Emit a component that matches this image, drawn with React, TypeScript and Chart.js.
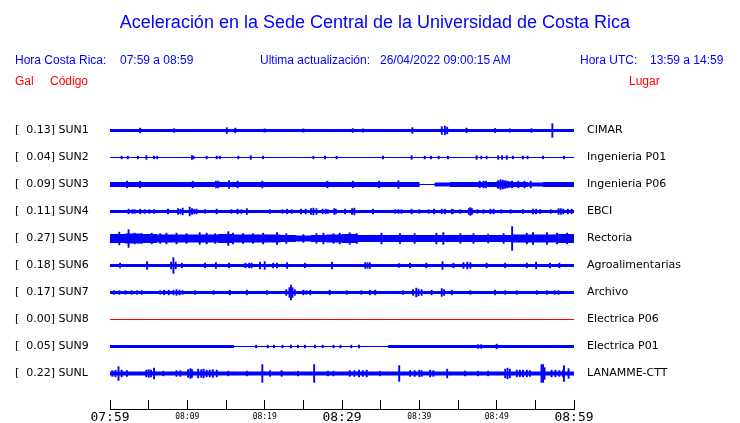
import React, { useEffect, useRef } from 'react';
import { Chart, registerables } from 'chart.js';

Chart.register(...registerables);

// ---------- data ----------
const stationCodes = ['SUN1', 'SUN2', 'SUN3', 'SUN4', 'SUN5', 'SUN6', 'SUN7', 'SUN8', 'SUN9', 'SUNL'];
const peakValues = [0.13, 0.04, 0.09, 0.11, 0.27, 0.18, 0.17, 0.0, 0.05, 0.22];
const stationNames = [
  'CIMAR', 'Ingenieria P01', 'Ingenieria P06', 'EBCI', 'Rectoria',
  'Agroalimentarias', 'Archivo', 'Electrica P06', 'Electrica P01', 'LANAMME-CTT',
];
const timeTickLabels = ['07:59', '08:09', '08:19', '08:29', '08:39', '08:49', '08:59'];
const bigTickMinutes = [0, 30, 60];

// envelope half-amplitude per 2-minute bin (30 bins = 60 minutes)
const sun1Env = [1.5, 1.5, 1.5, 1.5, 1.5, 1.5, 1.5, 1.5, 1.5, 1.5, 1.5, 1.5, 1.5, 1.5, 1.5, 1.5, 1.5, 1.5, 1.5, 1.5, 1.5, 1.5, 1.5, 1.5, 1.5, 1.5, 1.5, 1.5, 1.5, 1.5];
const sun2Env = [0.5, 0.5, 0.5, 0.5, 0.5, 0.5, 0.5, 0.5, 0.5, 0.5, 0.5, 0.5, 0.5, 0.5, 0.5, 0.5, 0.5, 0.5, 0.5, 0.5, 0.5, 0.5, 0.5, 0.5, 0.5, 0.5, 0.5, 0.5, 0.5, 0.5];
const sun3Env = [2.5, 2.5, 2.5, 2.5, 2.5, 2.5, 2.5, 2.5, 2.5, 2.5, 2.5, 2.5, 2.5, 2.5, 2.5, 2.5, 2.5, 2.5, 2.5, 2.5, 0.5, 2, 2.5, 2.5, 2.5, 3, 2.5, 2, 2.5, 2.5];
const sun4Env = [1.5, 1.5, 1.5, 1.5, 1.5, 1.5, 1.5, 1.5, 1.5, 1.5, 1.5, 1.5, 1.5, 1.5, 1.5, 1.5, 1.5, 1.5, 1.5, 1.5, 1.5, 1.5, 1.5, 1.5, 1.5, 1.5, 1.5, 1.5, 1.5, 1.5];
const sun5Env = [4.5, 5, 4.5, 4, 4, 4, 4, 4.5, 4, 4, 4, 3.5, 3, 3.5, 4, 4.5, 3.5, 3.5, 3.5, 3.5, 3.5, 3.5, 3.5, 3.5, 3.5, 3.5, 4, 4, 4, 4.5];
const sun6Env = [1.5, 1.5, 1.5, 1.5, 1.5, 1.5, 1.5, 1.5, 1.5, 1.5, 1.5, 1.5, 1.5, 1.5, 1.5, 1.5, 1.5, 1.5, 1.5, 1.5, 1.5, 1.5, 1.5, 1.5, 1.5, 1.5, 1.5, 1.5, 1.5, 1.5];
const sun7Env = [1.5, 1.5, 1.5, 1.5, 1.5, 1.5, 1.5, 1.5, 1.5, 1.5, 1.5, 1.5, 1.5, 1.5, 1.5, 1.5, 1.5, 1.5, 1.5, 1.5, 1.5, 1.5, 1.5, 1.5, 1.5, 1.5, 1.5, 1.5, 1.5, 1.5];
const sun8Env = [0.5, 0.5, 0.5, 0.5, 0.5, 0.5, 0.5, 0.5, 0.5, 0.5, 0.5, 0.5, 0.5, 0.5, 0.5, 0.5, 0.5, 0.5, 0.5, 0.5, 0.5, 0.5, 0.5, 0.5, 0.5, 0.5, 0.5, 0.5, 0.5, 0.5];
const sun9Env = [1.5, 1.5, 1.5, 1.5, 1.5, 1.5, 1.5, 1.5, 0.5, 0.5, 0.5, 0.5, 0.5, 0.5, 0.5, 0.5, 0.5, 0.5, 1.5, 1.5, 1.5, 1.5, 1.5, 1.5, 1.5, 1.5, 1.5, 1.5, 1.5, 1.5];
const sunLEnv = [2, 2, 2, 2, 2, 2, 2, 2, 2, 2, 2, 2, 2, 2, 2, 2, 2, 2, 2, 2, 2, 2, 2, 2, 2, 2, 2, 2, 2, 2];

// transient peaks: [minute, half-amplitude]
const sun1Spikes = [[3.9, 2.5], [8.3, 2], [15.1, 3], [16.2, 2.5], [20, 1.8], [25, 1.8], [31.4, 2], [32.7, 1.8], [39.1, 3], [42.9, 4], [43.3, 4.5], [43.6, 3.5], [46.1, 2.5], [49.8, 2.2], [51.7, 1.8], [54.5, 2], [57.2, 7]];
const sun2Spikes = [[1.5, 1.5], [2.3, 1.5], [3.6, 1.5], [4.7, 2], [5.7, 1.5], [6.1, 1.5], [10.6, 2], [10.8, 1.5], [12.5, 1.5], [13.8, 1.5], [14.2, 1.5], [16.6, 1.5], [18.2, 2], [19.8, 1.5], [26.3, 1.5], [27.8, 1.5], [29.3, 1.5], [35.3, 1.5], [39, 2], [40.7, 1.5], [41.5, 1.5], [42.5, 1.5], [43.7, 1.5], [47.4, 2], [48, 1.5], [48.7, 1.5], [50.2, 2], [50.7, 2], [51.3, 2], [52.1, 1.5], [53.4, 1.5], [54, 1.5], [56, 1.5], [58.7, 1.5]];
const sun3Spikes = [[2.2, 3.5], [3.9, 3.5], [10.7, 3.5], [13.7, 3.5], [14, 3.5], [15.4, 4], [16.5, 3.5], [19.7, 3.5], [28.1, 3.5], [31.4, 3.5], [34.8, 3.5], [37.3, 4], [47.8, 3.5], [48.3, 3.5], [48.6, 3.5], [50.2, 4], [50.5, 5], [50.8, 4.5], [51.1, 4], [51.4, 3.5], [52, 3.5], [52.8, 3.5], [53.6, 3.5], [54.4, 3.5]];
const sun4Spikes = [[2.4, 2.5], [2.9, 2], [3.2, 2], [3.9, 2.5], [4.5, 2], [5.1, 2], [5.7, 2], [7.5, 2.5], [8.8, 3], [9.1, 2.5], [9.4, 3.5], [10.3, 4.5], [10.6, 3], [10.9, 2.5], [11.2, 2.5], [12.3, 2], [13.8, 2.5], [15.7, 2], [16.5, 2.5], [17, 2], [17.7, 3], [20.7, 2], [22.3, 2], [22.9, 2.5], [23.5, 2], [24.7, 2.5], [25.3, 2.5], [26, 3], [26.3, 3.5], [26.7, 3], [27.5, 2.5], [27.9, 2.5], [28.2, 2], [29, 3], [29.2, 2.5], [30.4, 2.5], [31.3, 3], [31.6, 3.5], [34, 2.5], [36.9, 2], [37.3, 2], [37.7, 2], [39, 2.5], [40, 2], [41.2, 2], [41.9, 2.5], [42.9, 2.5], [43.3, 2.5], [44.2, 2.5], [44.4, 2], [45.3, 2], [46.4, 3], [46.6, 4], [46.8, 3], [47.5, 2], [48.3, 2], [49.2, 2.5], [49.6, 2.5], [50.6, 2], [51.8, 2], [53.4, 2], [54.7, 2.5], [55.1, 2.5], [55.6, 2], [57, 2], [58, 3], [58.3, 3], [58.6, 2.5], [59.2, 2.5], [59.7, 2.5]];
const sun5Spikes = [[1.2, 6.5], [2.4, 9], [3.2, 5.5], [4.1, 5], [5.4, 5.5], [6.5, 5], [7.3, 5.5], [8.6, 5.5], [9.9, 5], [11.6, 6], [12.5, 5.5], [13.6, 5], [15.3, 7], [15.9, 5.5], [17.2, 5], [18.5, 5], [19.8, 5.5], [21.6, 6], [22.8, 5], [25, 4], [26.7, 5], [27.6, 5.5], [28.9, 5], [29.7, 5.5], [31, 6], [31.9, 5], [35.1, 5.5], [37.5, 5], [39.4, 5], [42.2, 5.5], [43.1, 6], [45.3, 5], [47, 5], [48.9, 4.5], [50.9, 5], [52, 12], [53.9, 5.5], [54.7, 6], [56.5, 6], [57.8, 5.5], [59.1, 5.5]];
const sun6Spikes = [[1.3, 2.5], [4.8, 4], [7.9, 3.5], [8.2, 8], [8.5, 3.5], [9.3, 2.5], [12.3, 2.5], [13.7, 3], [15.4, 2.5], [17.5, 2.5], [18, 2.5], [18.3, 2.5], [19.4, 3.5], [20, 4], [21.1, 2.5], [21.6, 2.5], [22.9, 3], [25.2, 2.5], [28.7, 3.5], [33, 3], [33.3, 3], [33.6, 3], [37.4, 2], [38.8, 2.5], [40.9, 2.5], [43, 4], [44.4, 2.5], [45.7, 3], [46.2, 3.5], [46.6, 3], [48.7, 2.5], [51.1, 2.5], [53.9, 2.5], [55.1, 3.5], [56.9, 2.5], [58.1, 2.5]];
const sun7Spikes = [[0.5, 2], [1.2, 2], [2, 2], [2.8, 2], [3.5, 2], [4.1, 2], [6.5, 2], [7, 2.5], [7.6, 2.5], [8.2, 2.5], [8.6, 3], [9, 2.5], [9.4, 2], [11, 2], [13.4, 2], [15.5, 2.5], [17.7, 2.5], [20.3, 2], [22.8, 3], [23.2, 5], [23.4, 7.5], [23.6, 5], [23.9, 3], [25, 2.5], [25.4, 2], [25.9, 2.5], [28.4, 2.5], [30.6, 2], [32.5, 2], [33.6, 2.5], [34.3, 2.5], [37.9, 2], [39.2, 3], [39.6, 4.5], [39.9, 3.5], [40.3, 3], [41.6, 2.5], [42.9, 4], [43.2, 3], [44.2, 2.5], [46.6, 2], [49.8, 2.5], [51.1, 2], [52.6, 2], [55.2, 2], [56.5, 2], [57.5, 2], [58, 2]];
const sun8Spikes: number[][] = [];
const sun9Spikes = [[18.9, 1.5], [20.4, 1.5], [21.2, 1.5], [22.3, 1.5], [23.4, 1.5], [24.3, 1.5], [25.2, 1.5], [26.5, 1.5], [27.5, 1.5], [28.9, 1.5], [29.8, 1.5], [31.2, 1.5], [32.2, 1.5], [47.6, 2], [48, 2], [50, 2.5]];
const sunLSpikes = [[0.3, 3], [0.7, 3.5], [1.1, 7], [1.5, 3.5], [2.2, 3], [4.7, 3.5], [5, 4], [5.3, 3.5], [5.7, 5.5], [6.9, 2.5], [8.6, 3], [9.1, 3], [10.1, 4], [10.4, 5], [10.6, 4], [11.4, 4.5], [11.8, 4], [12.1, 4.5], [12.5, 3.5], [12.9, 3.5], [13.3, 4], [13.8, 3.5], [15.3, 2.5], [17.7, 2.5], [19.7, 9], [20.7, 3], [22.2, 3], [24.3, 2.5], [26.4, 9], [28.2, 2.5], [28.9, 2.5], [31, 3], [31.6, 3], [32.2, 3.5], [32.7, 3], [33.2, 3.5], [34.9, 2.5], [37.4, 8], [38.8, 3], [39.4, 3], [40, 3.5], [40.3, 3], [41.4, 3.5], [41.8, 3], [43.6, 4.5], [45.9, 2.5], [47.6, 2.5], [48.9, 2.5], [51.1, 4.5], [51.4, 5.5], [51.7, 4.5], [52.6, 3.5], [53, 3.5], [53.4, 3.5], [53.9, 3.5], [54.3, 3], [55.8, 9], [56, 9], [56.2, 6], [57.1, 3.5], [57.6, 3.5], [58.1, 3], [58.6, 3.5], [58.7, 8], [59.3, 5]];

const envelopes = [sun1Env, sun2Env, sun3Env, sun4Env, sun5Env, sun6Env, sun7Env, sun8Env, sun9Env, sunLEnv];
const spikeLists = [sun1Spikes, sun2Spikes, sun3Spikes, sun4Spikes, sun5Spikes, sun6Spikes, sun7Spikes, sun8Spikes, sun9Spikes, sunLSpikes];
const BIN = 2; // minutes per envelope bin
const ROW = 27; // trace separation in amplitude units

const BLUE = '#0000ff';
const RED = '#ff0000';

function leftLabel(i: number) {
  return `[  ${peakValues[i].toFixed(2)}] ${stationCodes[i]}`;
}

export default function App() {
  const ref = useRef<HTMLCanvasElement>(null);

  useEffect(() => {
    const canvas = ref.current;
    if (!canvas) return;
    const datasets: any[] = [];
    envelopes.forEach((env, i) => {
      const color = peakValues[i] === 0 ? RED : BLUE;
      datasets.push({
        type: 'bar',
        data: env.map((a, j) => ({ x: j * BIN + BIN / 2, y: [i * ROW - a, i * ROW + a] })),
        backgroundColor: color,
        borderWidth: 0,
        barThickness: 16,
        grouped: false,
        inflateAmount: 0,
      });
      datasets.push({
        type: 'bar',
        data: spikeLists[i].map(([t, a]) => ({ x: t, y: [i * ROW - a, i * ROW + a] })),
        backgroundColor: color,
        borderWidth: 0,
        barThickness: 1.5,
        grouped: false,
        inflateAmount: 0.2,
      });
    });

    const chart = new Chart(canvas, {
      type: 'bar',
      data: { datasets },
      options: {
        animation: false,
        responsive: false,
        devicePixelRatio: 1,
        events: [],
        layout: { padding: { left: 15, top: 103, right: 0, bottom: 0 } },
        plugins: { legend: { display: false }, tooltip: { enabled: false }, title: { display: false } },
        scales: {
          x: {
            type: 'linear',
            position: 'bottom',
            min: 0,
            max: 60,
            offset: false,
            grid: { display: true, offset: false, drawOnChartArea: false, drawTicks: true, tickLength: -9, color: '#000', lineWidth: 1 },
            border: { display: true, color: '#000', width: 1 },
            ticks: {
              stepSize: 5,
              autoSkip: false,
              maxRotation: 0,
              minRotation: 0,
              padding: 11,
              color: '#000',
              callback: (v: any) => (Number(v) % 10 === 0 ? timeTickLabels[Number(v) / 10] : ''),
              font: (ctx: any) => {
                const v = ctx.tick ? ctx.tick.value : 0;
                return bigTickMinutes.includes(v)
                  ? { family: 'DejaVu Sans Mono', size: 13, lineHeight: 1 }
                  : { family: 'DejaVu Sans Mono', size: 8, lineHeight: 1.5 };
              },
            },
            afterFit: (s: any) => { s.height = 14; },
          },
          y: {
            type: 'linear',
            position: 'left',
            reverse: true,
            min: -27.5,
            max: 278.5,
            grid: { display: false },
            border: { display: false },
            afterBuildTicks: (s: any) => { s.ticks = stationCodes.map((_, i) => ({ value: i * ROW })); },
            ticks: {
              crossAlign: 'far',
              padding: 0,
              color: '#000',
              autoSkip: false,
              font: { family: 'DejaVu Sans', size: 11 },
              callback: (v: any) => leftLabel(Math.round(Number(v) / ROW)),
            },
            afterFit: (s: any) => { s.width = 95; },
          },
          y2: {
            type: 'linear',
            position: 'right',
            reverse: true,
            min: -27.5,
            max: 278.5,
            grid: { display: true, drawOnChartArea: false, drawTicks: true, tickLength: 13, color: 'rgba(0,0,0,0)' },
            border: { display: false },
            afterBuildTicks: (s: any) => { s.ticks = stationNames.map((_, i) => ({ value: i * ROW })); },
            ticks: {
              crossAlign: 'near',
              padding: 0,
              color: '#000',
              autoSkip: false,
              font: { family: 'DejaVu Sans', size: 11 },
              callback: (v: any) => stationNames[Math.round(Number(v) / ROW)],
            },
            afterFit: (s: any) => { s.width = 166; },
          },
        },
      } as any,
    });
    return () => chart.destroy();
  }, []);

  const blueText: React.CSSProperties = {
    position: 'absolute', fontFamily: '"Liberation Sans", Arial, sans-serif', fontSize: 12,
    color: BLUE, whiteSpace: 'pre', lineHeight: '14px',
  };
  const redText: React.CSSProperties = { ...blueText, color: RED };

  return (
    <div style={{ position: 'absolute', left: 0, top: 0, width: 740, height: 423, overflow: 'hidden', background: '#fff' }}>
      <canvas ref={ref} width={740} height={423} style={{ position: 'absolute', left: 0, top: 0, width: 740, height: 423 }} />
      <div style={{ ...blueText, left: 5, width: 740, top: 11, fontSize: 18, lineHeight: '22px', textAlign: 'center' }}>
        Aceleración en la Sede Central de la Universidad de Costa Rica
      </div>
      <div style={{ ...blueText, left: 15, top: 53 }}>Hora Costa Rica:</div>
      <div style={{ ...blueText, left: 120, top: 53 }}>07:59 a 08:59</div>
      <div style={{ ...blueText, left: 260, top: 53 }}>Ultima actualización:</div>
      <div style={{ ...blueText, left: 380, top: 53 }}>26/04/2022 09:00:15 AM</div>
      <div style={{ ...blueText, left: 580, top: 53 }}>Hora UTC:</div>
      <div style={{ ...blueText, left: 650, top: 53 }}>13:59 a 14:59</div>
      <div style={{ ...redText, left: 15, top: 74 }}>Gal</div>
      <div style={{ ...redText, left: 50, top: 74 }}>Código</div>
      <div style={{ ...redText, left: 629, top: 74 }}>Lugar</div>
    </div>
  );
}
